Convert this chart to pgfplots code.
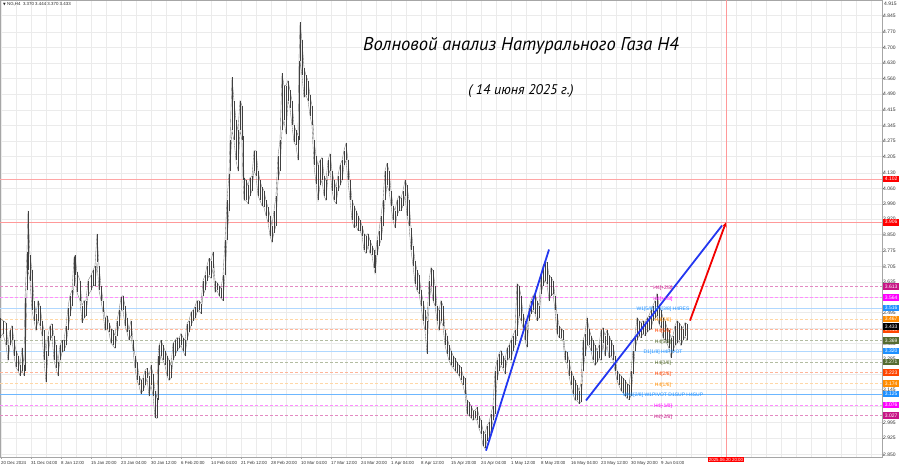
\documentclass[border=0pt]{standalone}
\usepackage{pgfplots}
\pgfplotsset{compat=1.18}
\usepackage{pgfplotstable}
\usepackage{fontspec}
\setmainfont{Liberation Sans}
\newfontfamily\titlefont{PT Sans}
\newfontfamily\symfont{DejaVu Sans}
\usetikzlibrary{arrows.meta}
\definecolor{mvr}{RGB}{199,21,133}
\definecolor{mag}{RGB}{255,0,255}
\definecolor{dblue}{RGB}{30,144,255}
\definecolor{dorange}{RGB}{255,140,0}
\definecolor{ored}{RGB}{255,69,0}
\definecolor{olive}{RGB}{85,107,47}
\definecolor{tblue}{RGB}{35,55,240}
\newcommand\fa{\fontsize{4.4}{5}\selectfont}
\newcommand\fb{\fontsize{5}{6}\selectfont}
\newcommand\lev[2]{\addplot[forget plot,#2] coordinates {(0,#1) (882,#1)};}
\newcommand\pl[2]{\node[fill=#2,text=white,font=\fb,inner sep=0pt,minimum height=6.6pt,minimum width=16pt,anchor=west] at (axis cs:883,#1) {#1};}
\newcommand\lt[3]{\node[text=#2,font=\fb,inner sep=0pt,yshift=-1.5pt] at (axis cs:663,#1) {#3};}
\pgfplotstableread{
x lo hi
0 3.382 3.469
3 3.400 3.459
6 3.346 3.450
8 3.278 3.346
10 3.346 3.414
12 3.369 3.436
14 3.300 3.369
16 3.246 3.323
18 3.232 3.300
20 3.209 3.255
22 3.232 3.333
24 3.209 3.255
25 3.232 3.560
27 3.596 3.769
28 3.687 3.959
30 3.641 3.755
32 3.505 3.687
34 3.459 3.550
36 3.414 3.491
38 3.459 3.550
40 3.436 3.527
42 3.391 3.459
44 3.278 3.414
46 3.178 3.323
48 3.300 3.391
50 3.369 3.436
52 3.391 3.445
54 3.278 3.391
56 3.242 3.346
58 3.209 3.269
60 3.278 3.346
62 3.314 3.369
64 3.323 3.369
66 3.346 3.436
68 3.414 3.518
70 3.482 3.573
72 3.527 3.596
74 3.618 3.746
75 3.664 3.755
77 3.587 3.678
80 3.550 3.641
82 3.450 3.527
84 3.469 3.550
86 3.482 3.550
88 3.573 3.641
91 3.596 3.664
93 3.618 3.687
95 3.618 3.709
97 3.723 3.854
99 3.596 3.709
101 3.550 3.618
103 3.496 3.550
105 3.414 3.469
107 3.423 3.482
109 3.405 3.450
111 3.355 3.423
113 3.346 3.414
115 3.333 3.391
117 3.391 3.459
119 3.436 3.505
121 3.505 3.564
123 3.505 3.573
125 3.436 3.527
127 3.405 3.469
129 3.369 3.414
131 3.391 3.459
133 3.323 3.369
135 3.242 3.300
137 3.187 3.269
139 3.164 3.209
141 3.127 3.187
143 3.141 3.196
145 3.164 3.232
147 3.196 3.242
149 3.118 3.209
151 3.164 3.255
153 3.118 3.218
155 3.018 3.141
157 3.014 3.105
158 3.100 3.300
159 3.255 3.346
161 3.300 3.369
163 3.278 3.346
165 3.255 3.323
167 3.209 3.300
169 3.187 3.278
171 3.196 3.255
173 3.278 3.355
175 3.300 3.369
177 3.323 3.382
179 3.333 3.378
181 3.346 3.400
183 3.323 3.382
185 3.300 3.369
187 3.369 3.445
189 3.405 3.459
191 3.436 3.496
193 3.459 3.505
195 3.469 3.523
197 3.496 3.550
199 3.505 3.550
201 3.491 3.536
203 3.573 3.641
205 3.596 3.664
207 3.641 3.709
209 3.664 3.742
211 3.651 3.732
213 3.696 3.769
215 3.587 3.641
217 3.596 3.632
219 3.573 3.618
221 3.560 3.605
223 3.550 3.664
225 3.664 3.823
227 3.823 4.005
229 3.959 4.127
230 4.141 4.278
232 4.323 4.564
234 4.278 4.459
236 4.187 4.369
238 4.141 4.323
240 4.323 4.459
242 4.278 4.436
243 4.100 4.300
244 4.005 4.109
246 4.005 4.096
248 3.991 4.073
250 4.027 4.109
252 4.050 4.114
254 4.141 4.232
256 4.118 4.232
258 4.027 4.141
260 4.005 4.096
262 3.982 4.064
264 3.973 4.050
266 3.936 4.005
268 3.905 3.973
270 3.845 3.936
272 3.814 3.891
274 3.859 3.959
276 3.891 4.027
278 4.096 4.209
280 4.141 4.278
282 4.323 4.582
284 4.369 4.527
286 4.309 4.527
288 4.459 4.550
290 4.423 4.505
292 4.346 4.459
294 4.269 4.346
296 4.255 4.323
298 4.187 4.300
299 4.278 4.641
300 4.641 4.814
302 4.573 4.732
304 4.473 4.609
306 4.482 4.573
308 4.459 4.550
310 4.391 4.482
312 4.346 4.436
314 4.164 4.278
316 4.082 4.209
318 4.005 4.164
320 4.073 4.187
322 4.096 4.200
324 4.027 4.118
326 4.005 4.096
328 4.118 4.187
330 4.141 4.218
332 4.050 4.141
334 4.005 4.096
336 3.991 4.064
338 4.050 4.118
340 4.073 4.164
342 4.096 4.187
344 4.164 4.232
346 4.187 4.264
348 4.096 4.187
350 4.005 4.096
352 3.914 4.005
354 3.882 3.982
356 3.891 3.959
358 3.868 3.936
360 3.868 3.914
362 3.845 3.891
364 3.778 3.854
366 3.764 3.845
368 3.800 3.854
370 3.764 3.823
372 3.755 3.800
374 3.696 3.778
375 3.673 3.755
377 3.755 3.823
379 3.800 3.868
381 3.823 3.936
383 3.891 4.005
385 4.005 4.141
387 4.073 4.173
389 4.050 4.141
391 3.982 4.050
393 3.914 3.982
395 3.882 3.959
397 3.936 4.005
399 3.959 4.027
401 3.959 4.014
403 3.982 4.050
405 4.027 4.096
407 3.936 4.073
409 3.891 4.005
411 3.778 3.882
413 3.709 3.800
415 3.627 3.732
417 3.596 3.687
419 3.582 3.664
421 3.527 3.596
423 3.459 3.550
425 3.414 3.505
427 3.309 3.459
429 3.527 3.641
431 3.618 3.700
433 3.550 3.687
435 3.527 3.618
437 3.459 3.527
439 3.414 3.505
441 3.459 3.550
443 3.436 3.527
445 3.346 3.414
447 3.309 3.391
449 3.278 3.346
451 3.255 3.323
453 3.246 3.300
455 3.232 3.287
457 3.223 3.269
459 3.209 3.255
461 3.187 3.246
463 3.164 3.209
465 3.127 3.196
467 3.036 3.096
469 3.027 3.087
471 3.018 3.073
473 3.005 3.050
475 3.014 3.050
477 3.005 3.064
479 2.969 3.027
481 2.945 3.005
483 2.891 2.959
485 2.878 2.945
487 2.914 2.982
489 2.927 2.996
491 2.959 3.036
493 3.005 3.073
495 3.036 3.232
497 3.187 3.278
499 3.232 3.309
501 3.255 3.323
503 3.242 3.300
505 3.218 3.278
507 3.278 3.333
509 3.287 3.346
511 3.278 3.369
513 3.323 3.391
515 3.346 3.414
517 3.391 3.627
519 3.482 3.618
521 3.459 3.573
523 3.427 3.491
525 3.369 3.459
527 3.337 3.414
529 3.459 3.518
531 3.491 3.550
533 3.505 3.573
535 3.491 3.582
537 3.459 3.550
539 3.469 3.527
541 3.582 3.664
543 3.618 3.709
545 3.641 3.723
547 3.627 3.723
549 3.550 3.664
551 3.573 3.655
553 3.582 3.641
555 3.505 3.573
557 3.400 3.491
559 3.382 3.436
561 3.378 3.423
563 3.369 3.414
565 3.278 3.323
567 3.264 3.314
569 3.209 3.278
571 3.164 3.232
573 3.127 3.209
575 3.096 3.187
577 3.096 3.164
579 3.082 3.141
581 3.087 3.173
583 3.232 3.369
585 3.300 3.400
587 3.346 3.473
589 3.346 3.423
591 3.323 3.391
593 3.278 3.369
595 3.255 3.346
597 3.269 3.323
599 3.287 3.346
601 3.278 3.414
603 3.355 3.427
605 3.300 3.391
607 3.346 3.414
609 3.291 3.391
611 3.300 3.369
613 3.278 3.346
615 3.232 3.300
617 3.187 3.232
619 3.164 3.218
621 3.141 3.209
623 3.132 3.196
625 3.118 3.187
627 3.105 3.173
629 3.100 3.164
631 3.118 3.232
633 3.218 3.323
635 3.323 3.391
637 3.369 3.473
639 3.391 3.459
641 3.382 3.450
643 3.400 3.459
645 3.391 3.450
647 3.405 3.469
649 3.414 3.482
651 3.423 3.505
653 3.459 3.527
655 3.469 3.550
657 3.482 3.582
659 3.445 3.527
661 3.427 3.505
663 3.382 3.473
665 3.369 3.459
667 3.355 3.427
669 3.333 3.414
671 3.291 3.382
673 3.323 3.391
675 3.346 3.436
677 3.355 3.459
679 3.369 3.450
681 3.346 3.436
683 3.369 3.423
685 3.387 3.450
687 3.370 3.444
}\bars
\begin{document}
\begin{tikzpicture}
\begin{axis}[
  at={(0pt,10pt)}, anchor=south west,
  scale only axis, width=882pt, height=457pt,
  xmin=0, xmax=882, ymin=2.839, ymax=4.916,
  clip=false, set layers,
  axis line style={draw=gray!70, line width=0.5pt},
  xtick={1,31,61,91,121,151,181,211,241,271,301,331,361,391,421,451,481,511,541,571,601,631,661},
  xticklabels={20 Dec 2024,31 Dec 04:00,8 Jan 12:00,15 Jan 20:00,23 Jan 04:00,30 Jan 12:00,6 Feb 20:00,14 Feb 04:00,21 Feb 12:00,28 Feb 20:00,10 Mar 04:00,17 Mar 12:00,24 Mar 20:00,1 Apr 04:00,8 Apr 12:00,15 Apr 20:00,24 Apr 04:00,1 May 12:00,8 May 20:00,16 May 04:00,23 May 12:00,30 May 20:00,9 Jun 04:00},
  xticklabel style={anchor=north west, font=\fa, inner sep=0pt, yshift=-2pt, text=black!80},
  ytick={4.845,4.770,4.700,4.630,4.560,4.490,4.415,4.345,4.275,4.205,4.130,4.060,3.990,3.920,3.850,3.775,3.705,3.635,3.495,3.355,3.285,3.145,2.995,2.925,2.850},
  yticklabels={4.845,4.770,4.700,4.630,4.560,4.490,4.415,4.345,4.275,4.205,4.130,4.060,3.990,3.920,3.850,3.775,3.705,3.635,3.495,3.355,3.285,3.145,2.995,2.925,2.850},
  extra y ticks={3.565,3.425,3.215,3.070}, extra y tick labels={},
  extra y tick style={grid=major},
  yticklabel pos=right, ytick pos=right, xtick pos=left,
  yticklabel style={anchor=west, font=\fb, inner sep=0pt, xshift=-1pt, text=black!80},
  tick align=outside, major tick length=2pt, tick style={draw=gray!70},
  minor xtick={1,16,...,871}, xminorgrids=true, ymajorgrids=true,
  minor tick length=0pt,
  grid style={draw=gray!16, line width=0.4pt},
  minor grid style={draw=gray!16, line width=0.4pt},
]
% Murrey levels
\lev{3.613}{mvr!50, dash pattern=on 3pt off 2pt, line width=0.6pt}
\lev{3.564}{mag!45, dash pattern=on 3pt off 2pt, line width=0.6pt}
\lev{3.516}{dblue!35, line width=0.6pt}
\lev{3.467}{dorange!35, dash pattern=on 3pt off 2pt, line width=0.6pt}
\lev{3.418}{ored!40, dash pattern=on 3pt off 2pt, line width=0.6pt}
\lev{3.369}{olive!45, dash pattern=on 3pt off 2pt, line width=0.6pt}
\lev{3.320}{dblue!35, line width=0.6pt}
\lev{3.271}{olive!45, dash pattern=on 3pt off 2pt, line width=0.6pt}
\lev{3.223}{ored!40, dash pattern=on 3pt off 2pt, line width=0.6pt}
\lev{3.174}{dorange!35, dash pattern=on 3pt off 2pt, line width=0.6pt}
\lev{3.125}{dblue!65, line width=0.7pt}
\lev{3.076}{mag!45, dash pattern=on 3pt off 2pt, line width=0.6pt}
\lev{3.027}{mvr!50, dash pattern=on 3pt off 2pt, line width=0.6pt}
\lev{4.102}{red!35, line width=0.6pt}
\lev{3.906}{red!40, line width=0.6pt}
\addplot[forget plot, red!40, line width=0.6pt] coordinates {(726,2.839) (726,4.916)};
% price bars
\addplot[forget plot, black!55, line width=0.35pt] table[x=x, y=hi] {\bars};
\addplot[forget plot, black!55, line width=0.35pt] table[x=x, y=lo] {\bars};
\addplot[forget plot, draw=none, mark=none, error bars/.cd, y dir=plus, y explicit, error mark=none,
  error bar style={line width=0.9pt, draw=black!75}]
  table[x=x, y=lo, y error expr=\thisrow{hi}-\thisrow{lo}] {\bars};
% wave lines
\addplot[forget plot, tblue, line width=1.8pt] coordinates {(486,2.868) (549,3.782)};
\addplot[forget plot, tblue, line width=1.8pt] coordinates {(586,3.096) (722,3.891)};
\addplot[forget plot, red!95!black, line width=1.8pt, -{Stealth[length=5pt,width=4.5pt]}] coordinates {(690,3.459) (726,3.906)};
% level texts
\lt{3.613}{mvr}{H4[+2/8]}
\lt{3.564}{mag}{H4[+1/8]}
\lt{3.516}{dblue}{W1[5/8] D1[3/8] H4RES}
\lt{3.467}{dorange}{H4[7/8]}
\lt{3.418}{ored}{H4[6/8]}
\lt{3.369}{olive}{H4[5/8]}
\lt{3.320}{dblue}{D1[1/8] H4PIVOT}
\lt{3.271}{olive}{H4[3/8]}
\lt{3.223}{ored}{H4[2/8]}
\lt{3.174}{dorange}{H4[1/8]}
\lt{3.125}{dblue}{MN1[2/8] W1PIVOT D1SUP H4SUP}
\lt{3.076}{mag}{H4[-1/8]}
\lt{3.027}{mvr}{H4[-2/8]}
% price labels on the right
\node[anchor=west,font=\fb,inner sep=0pt,text=black!80] at (axis cs:884,4.900) {4.915};
\pl{4.102}{red}
\pl{3.906}{red}
\pl{3.613}{mvr}
\pl{3.564}{mag}
\pl{3.516}{dblue}
\pl{3.467}{dorange}
\pl{3.418}{ored}
\pl{3.433}{black}
\pl{3.369}{olive}
\pl{3.320}{dblue}
\pl{3.271}{olive}
\pl{3.223}{ored}
\pl{3.174}{dorange}
\pl{3.125}{dblue}
\pl{3.076}{mag}
\pl{3.027}{mvr}
\node[fill=red,text=white,font=\fa,inner sep=0.9pt,anchor=north] at (axis cs:726,2.839) {2025.06.20 20:00};
% header and titles
\node[anchor=west,font=\fa,inner sep=0pt,text=black!85] at (axis cs:3,4.896) {{\symfont\fontsize{3.5}{4}\selectfont ▼}\ NG,H4\ \ 3.370 3.444 3.370 3.433};
\node[font=\titlefont\itshape\fontsize{18.5}{22}\selectfont] at (axis cs:521,4.709) {Волновой анализ Натурального Газа H4};
\node[font=\titlefont\itshape\fontsize{14}{17}\selectfont] at (axis cs:521,4.500) {( 14 июня 2025 г.)};
\end{axis}
\pgfresetboundingbox
\useasboundingbox (0,0) rectangle (899pt,467pt);
\end{tikzpicture}
\end{document}
